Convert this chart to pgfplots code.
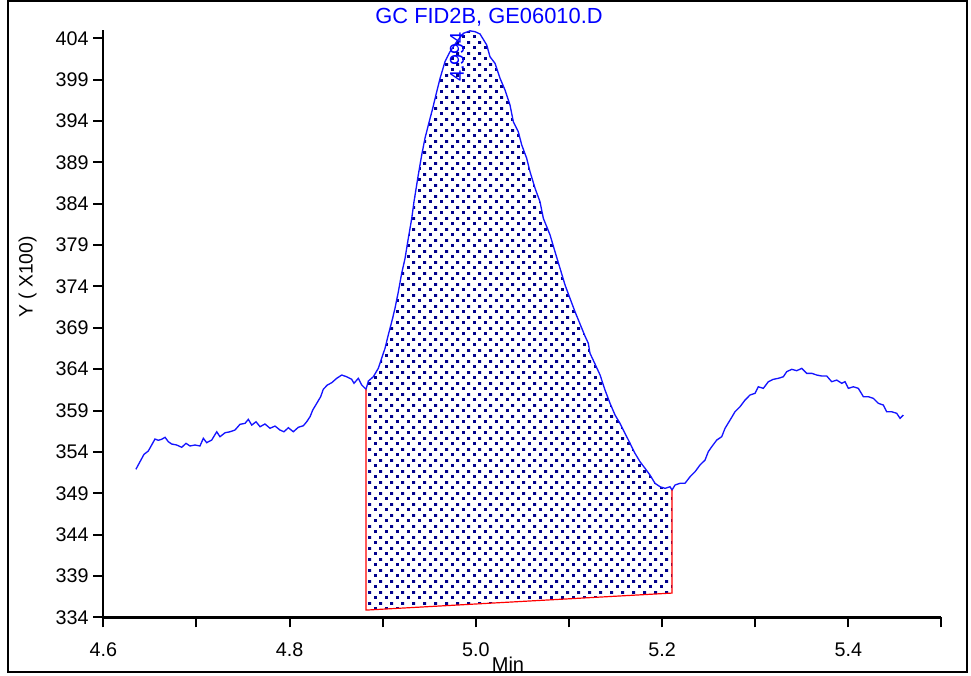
\documentclass[border=0pt]{standalone}
\usepackage{pgfplots}
\pgfplotsset{compat=1.18}
\usepackage{pgfplotstable}
\usetikzlibrary{patterns}
\usepackage{fontspec}
\setmainfont{Liberation Sans}
\definecolor{dotnavy}{RGB}{0,0,140}
\definecolor{curveblue}{RGB}{20,20,255}
\pgfdeclarepatternformonly{navydots}{\pgfqpoint{0pt}{0pt}}{\pgfqpoint{8.25pt}{8.25pt}}{\pgfqpoint{8.25pt}{8.25pt}}{%
  \pgfpathrectangle{\pgfqpoint{0pt}{0pt}}{\pgfqpoint{2.4pt}{2.4pt}}%
  \pgfpathrectangle{\pgfqpoint{4.125pt}{4.125pt}}{\pgfqpoint{2.4pt}{2.4pt}}%
  \pgfusepath{fill}}
\pgfplotstableread{
x y
4.6350 351.89
4.6394 352.81
4.6437 353.70
4.6483 354.10
4.6509 354.62
4.6555 355.55
4.6591 355.40
4.6627 355.52
4.6663 355.76
4.6698 355.23
4.6734 354.95
4.6788 354.83
4.6842 354.55
4.6888 355.03
4.6931 354.71
4.6985 354.83
4.7038 354.71
4.7074 355.64
4.7110 355.11
4.7164 355.43
4.7218 356.43
4.7253 355.83
4.7307 356.31
4.7361 356.43
4.7414 356.64
4.7468 357.33
4.7522 357.45
4.7557 357.93
4.7594 357.24
4.7640 357.64
4.7683 357.04
4.7736 357.37
4.7790 356.85
4.7844 357.12
4.7897 356.64
4.7940 356.43
4.7987 356.92
4.8040 356.43
4.8094 356.97
4.8148 357.16
4.8184 357.64
4.8220 358.25
4.8249 359.06
4.8292 359.87
4.8334 360.67
4.8362 361.56
4.8405 362.08
4.8453 362.36
4.8506 362.89
4.8560 363.29
4.8614 363.08
4.8667 362.77
4.8692 362.29
4.8738 362.89
4.8775 362.08
4.8821 361.56
4.8846 362.56
4.8899 363.08
4.8953 364.10
4.8989 365.31
4.9025 366.52
4.9060 368.13
4.9097 369.73
4.9132 371.35
4.9168 373.36
4.9204 375.59
4.9240 377.40
4.9275 379.82
4.9312 382.23
4.9336 384.24
4.9382 387.47
4.9419 389.89
4.9454 391.91
4.9490 393.51
4.9537 395.53
4.9580 397.54
4.9616 399.16
4.9669 401.17
4.9723 402.38
4.9795 403.59
4.9866 404.60
4.9938 404.90
4.9991 404.80
5.0045 404.52
5.0117 403.19
5.0152 401.77
5.0206 400.97
5.0260 399.16
5.0313 397.75
5.0367 395.93
5.0403 393.91
5.0456 392.70
5.0493 391.10
5.0546 389.49
5.0582 387.87
5.0636 385.86
5.0689 384.24
5.0725 382.23
5.0797 380.22
5.0850 378.20
5.0904 376.19
5.0958 374.17
5.1011 372.56
5.1065 370.94
5.1119 369.46
5.1172 368.00
5.1208 367.12
5.1226 365.91
5.1280 364.62
5.1334 363.29
5.1387 361.48
5.1441 359.87
5.1495 358.45
5.1548 357.45
5.1602 356.24
5.1656 355.03
5.1709 353.82
5.1763 352.81
5.1817 352.01
5.1870 351.20
5.1924 350.20
5.1979 349.78
5.2032 349.59
5.2085 349.78
5.2107 349.39
5.2139 349.99
5.2193 350.20
5.2246 350.20
5.2300 350.99
5.2354 351.60
5.2407 352.41
5.2461 353.01
5.2496 354.02
5.2533 354.62
5.2587 355.43
5.2640 355.83
5.2676 356.85
5.2730 357.85
5.2783 358.85
5.2837 359.46
5.2891 360.27
5.2944 360.87
5.2998 361.08
5.3033 361.87
5.3087 361.68
5.3141 362.48
5.3194 362.77
5.3248 362.89
5.3302 363.08
5.3338 363.69
5.3392 363.98
5.3446 363.81
5.3499 364.10
5.3553 363.49
5.3607 363.49
5.3660 363.29
5.3714 363.17
5.3768 363.17
5.3821 362.48
5.3875 362.68
5.3929 362.29
5.3964 362.48
5.4000 361.68
5.4054 361.87
5.4107 361.68
5.4161 360.67
5.4215 360.67
5.4268 360.47
5.4322 359.87
5.4376 359.66
5.4412 358.85
5.4466 358.85
5.4519 358.66
5.4555 358.05
5.4590 358.45
}\signal
\begin{document}
\begin{tikzpicture}
\path[use as bounding box] (-77.475pt,-43.275pt) rectangle (650.775pt,462.975pt);
\begin{axis}[
  at={(0pt,0pt)}, anchor=south west,
  scale only axis, width=628.65pt, height=440.475pt,
  xmin=4.6, xmax=5.5, ymin=334, ymax=405,
  axis x line*=bottom, axis y line*=left,
  axis line style={line width=1.8pt, black},
  xtick={4.6,4.7,4.8,4.9,5.0,5.1,5.2,5.3,5.4,5.5},
  xticklabels={4.6,,4.8,,5.0,,5.2,,5.4,},
  ytick={334,339,344,349,354,359,364,369,374,379,384,389,394,399,404},
  tick align=outside, major tick length=7.5pt,
  tick style={line width=1.5pt, black},
  ticklabel style={font=\fontsize{14.8}{17}\selectfont},
  xticklabel style={yshift=-8pt},
  /pgf/number format/assume math mode=true,
  clip=false,
]
\addplot[draw=none, pattern=navydots, pattern color=dotnavy]
  table[restrict x to domain=4.8820:5.2108] {\signal}
  -- (axis cs:5.2107,336.93) -- (axis cs:4.8821,334.87) -- cycle;
\addplot[curveblue, line width=1pt] table {\signal};
\addplot[red, line width=0.9pt] coordinates {(4.8821,361.56) (4.8821,334.87) (5.2107,336.93) (5.2107,349.39)};
\node[rotate=90, text=blue, font=\fontsize{15}{18}\selectfont] at (axis cs:4.9798,401.74) {4.994};
\node[text=blue, font=\fontsize{16.4}{19}\selectfont] at (axis description cs:0.4602,1.0222) {GC FID2B, GE06010.D};
\node[rotate=90, font=\fontsize{14.5}{17}\selectfont] at (axis description cs:-0.0904,0.5794) {Y ( X100)};
\node[anchor=north, font=\fontsize{15}{18}\selectfont, inner sep=0pt] at (axis description cs:0.4828,-0.0676) {Min};
\end{axis}
\draw[line width=2pt, black] (-71.475pt,462.225pt) rectangle (647.775pt,-41.025pt);
\end{tikzpicture}
\end{document}
